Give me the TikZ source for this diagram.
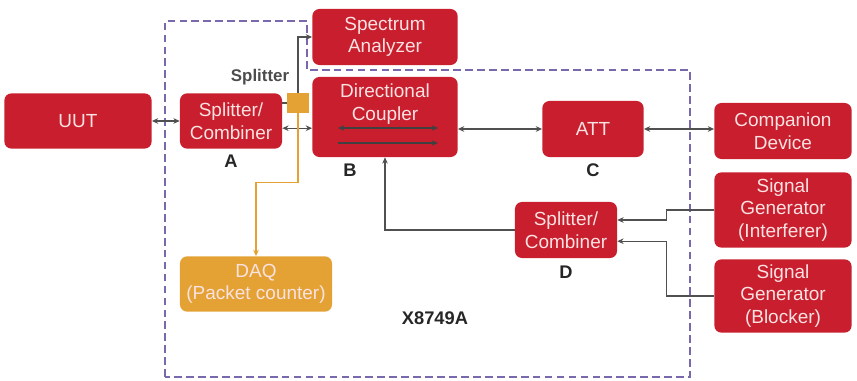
\documentclass[tikz,border=0pt]{standalone}
\usepackage{fontspec}
\setmainfont{Liberation Sans}
\usetikzlibrary{arrows.meta}
\definecolor{boxred}{RGB}{200,30,45}
\definecolor{boxtext}{RGB}{250,226,226}
\definecolor{daqorange}{RGB}{228,162,52}
\definecolor{framepurple}{RGB}{122,104,172}
\definecolor{wiregray}{RGB}{80,80,80}
\begin{document}
\begin{tikzpicture}[x=0.025cm, y=-0.025cm,
  % Box styles
  redbox/.style={rectangle, fill=boxred, text=boxtext, align=center, rounded corners=5pt, font=\fontsize{13.5}{16}\selectfont, inner sep=2pt},
  daqbox/.style={rectangle, fill=daqorange, text=boxtext, align=center, rounded corners=5pt, font=\fontsize{13.5}{16}\selectfont, inner sep=2pt},
  tapbox/.style={rectangle, fill=daqorange, minimum width=0.55cm, minimum height=0.5cm, inner sep=0pt},
  tag/.style={font=\fontsize{13}{16}\selectfont\bfseries, text=black!85},
  % Connector styles
  link/.style={wiregray, line width=0.8pt, >={Stealth[length=4.5pt, width=4pt]}},
  daqlink/.style={daqorange, line width=0.9pt, >={Stealth[length=4.5pt, width=4pt]}},
  inner/.style={black!75, line width=0.9pt, >={Stealth[length=4.5pt, width=4pt]}},
  frame/.style={framepurple, line width=1.1pt, dash pattern=on 5.5pt off 3pt}
]
\useasboundingbox (0,0) rectangle (857,381);

% Layer 1: dashed instrument boundary
\draw[frame] (165,377) -- (165,21) -- (307,21) -- (307,70) -- (690,70) -- (690,377) -- cycle;

% Layer 2: boxes
\node[redbox, minimum width=3.68cm, minimum height=1.38cm] (uut) at (78,121) {UUT};
\node[redbox, minimum width=2.55cm, minimum height=1.38cm] (splitA) at (231,121) {Splitter/\\Combiner};
\node[tapbox] (tap) at (298,103) {};
\node[redbox, minimum width=3.63cm, minimum height=1.4cm] (spectrum) at (385,37) {Spectrum\\Analyzer};
\node[redbox, minimum width=3.63cm, minimum height=2cm] (coupler) at (385,117) {};
\node[text=boxtext, align=center, font=\fontsize{13.5}{16}\selectfont] (couplertxt) at (385,104) {Directional\\Coupler};
\node[redbox, minimum width=2.53cm, minimum height=1.4cm] (att) at (593,129) {ATT};
\node[redbox, minimum width=3.43cm, minimum height=1.4cm] (companion) at (783,131) {Companion\\Device};
\node[redbox, minimum width=3.43cm, minimum height=1.88cm] (sgInt) at (783,210) {Signal\\Generator\\(Interferer)};
\node[redbox, minimum width=3.43cm, minimum height=1.83cm] (sgBlk) at (783,296) {Signal\\Generator\\(Blocker)};
\node[redbox, minimum width=2.55cm, minimum height=1.4cm] (splitD) at (566,230) {Splitter/\\Combiner};
\node[daqbox, minimum width=3.8cm, minimum height=1.38cm] (daq) at (256,284) {DAQ\\(Packet counter)};

% Layer 3: coupler paths
\coordinate (cpl1) at (338,128);
\coordinate (cpr1) at (438,128);
\coordinate (cpl2) at (338,143);
\coordinate (cpr2) at (438,143);
\draw[inner, <->] (cpl1) -- (cpr1);
\draw[inner, ->] (cpl2) -- (cpr2);

% Layer 4: connectors
\draw[link, <->] (uut.east) -- (splitA.west);
\draw[link, <->] ([yshift=-0.18cm]splitA.east) -- ([yshift=-0.18cm]splitA.east -| coupler.west);
\draw[link] (splitA.east |- tap.west) -- (tap.west);
\draw[link, ->] (tap.north) |- (spectrum.west);
\draw[daqlink, ->] (tap.south) -- ++(0,69) -| (daq.north);
\draw[link, <->] (coupler.east |- att.west) -- (att.west);
\draw[link, <->] (att.east) -- (att.east -| companion.west);
\draw[link, ->] (splitD.west) -| (coupler.south);
\draw[link, ->] (sgInt.west) -- ++(-48,0) |- ([yshift=0.25cm]splitD.east);
\draw[link, ->] (sgBlk.west) -- ++(-48,0) |- ([yshift=-0.28cm]splitD.east);

% Layer 5: labels
\node[font=\fontsize{12}{14}\selectfont\bfseries, text=black!70] (tapname) at (260,77) {Splitter};
\node[tag] (tagA) at (231,161) {A};
\node[tag] (tagB) at (350,170) {B};
\node[tag] (tagC) at (593,170) {C};
\node[tag] (tagD) at (566,272) {D};
\node[tag] (model) at (435,318) {X8749A};

\end{tikzpicture}
\end{document}
